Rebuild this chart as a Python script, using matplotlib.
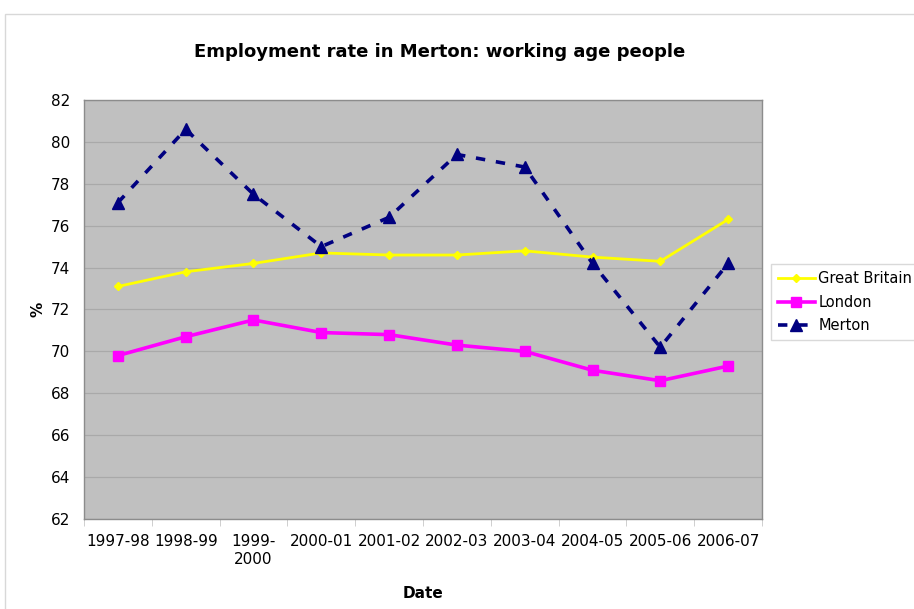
import matplotlib.pyplot as plt
import numpy as np
from matplotlib.patches import Rectangle

# Employment rate of working age people, by financial year
years = ["1997-98", "1998-99", "1999-\n2000", "2000-01", "2001-02",
         "2002-03", "2003-04", "2004-05", "2005-06", "2006-07"]
great_britain = [73.1, 73.8, 74.2, 74.7, 74.6, 74.6, 74.8, 74.5, 74.3, 76.3]
london = [69.8, 70.7, 71.5, 70.9, 70.8, 70.3, 70.0, 69.1, 68.6, 69.3]
merton = [77.1, 80.6, 77.5, 75.0, 76.4, 79.4, 78.8, 74.2, 70.2, 74.2]

plt.rcParams['font.family'] = ['DejaVu Sans']

fig = plt.figure(figsize=(9.14, 6.09), dpi=100)
ax = fig.add_axes([0.0919, 0.1478, 0.7418, 0.688])

# light frame round the whole chart
fig.patches.append(Rectangle((0.006, -0.01), 1.1, 0.987, transform=fig.transFigure,
                             fill=False, edgecolor="#d8d8d8", linewidth=1))

x = np.arange(len(years))
ax.set_facecolor("#c0c0c0")

ax.plot(x, great_britain, color="#ffff00", linewidth=2, marker="D", markersize=4,
        label="Great Britain")
ax.plot(x, london, color="#ff00ff", linewidth=2.6, marker="s", markersize=6.5,
        label="London")
ax.plot(x, merton, color="#000080", linewidth=2.6, linestyle=(0, (2.6, 3.0)),
        marker="^", markersize=9, label="Merton")

ax.set_xlim(-0.5, len(years) - 0.5)
ax.set_ylim(62, 82)
ax.set_yticks(np.arange(62, 83, 2))
ax.yaxis.grid(True, color="#a9a9a9", linewidth=0.9)
ax.set_axisbelow(True)

ax.set_xticks(x)
ax.set_xticklabels(years, fontsize=11)
ax.tick_params(axis="x", length=0, pad=11)
ax.set_xticks(np.arange(-0.5, len(years), 1), minor=True)
ax.tick_params(axis="x", which="minor", length=5, color="#c8c8c8")
ax.tick_params(axis="y", length=0, labelsize=11, pad=10)

for side in ax.spines.values():
    side.set_color("#8c8c8c")
    side.set_linewidth(1)

ax.set_title("Employment rate in Merton: working age people", fontsize=13,
             fontweight="bold", pad=31, x=0.524)
ax.set_xlabel("Date", fontsize=11, fontweight="bold", labelpad=14)
ax.set_ylabel("%", fontsize=11, fontweight="bold", labelpad=4)

fig.legend(loc="upper left", bbox_to_anchor=(0.8435, 0.566), fontsize=10.5,
           frameon=True, fancybox=False, edgecolor="#d0d0d0", borderpad=0.45,
           handlelength=2.6, handletextpad=0.2, labelspacing=0.6, borderaxespad=0)

fig.savefig("out.png", dpi=100)
